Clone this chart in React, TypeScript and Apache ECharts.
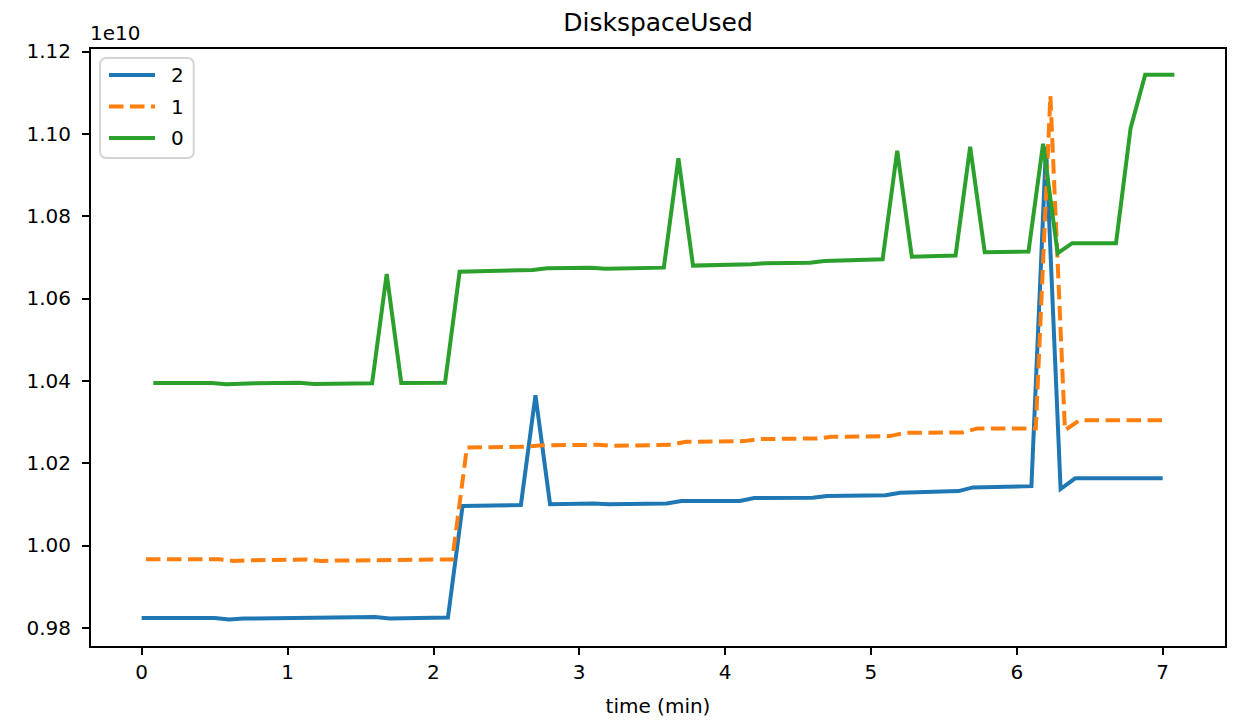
import React, { useEffect, useRef } from 'react';
import * as echarts from 'echarts';

// Values in units of 1e10 bytes; time in minutes (vertices)
const s2Time = [0, 0.5, 0.6, 0.7, 1.6, 1.7, 2.1, 2.2, 2.6, 2.7, 2.8, 3.1, 3.2, 3.6, 3.7, 4.1, 4.2, 4.6, 4.7, 5.1, 5.2, 5.6, 5.7, 6.1, 6.2, 6.3, 6.4, 7.0];
const s2Value = [0.98238, 0.98238, 0.98199, 0.98224, 0.98263, 0.98224, 0.98248, 1.0096, 1.0098, 1.0365, 1.0100, 1.0102, 1.0100, 1.0102, 1.0108, 1.0108, 1.0115, 1.0116, 1.0120, 1.0122, 1.0128, 1.0132, 1.0141, 1.0144, 1.0968, 1.0137, 1.0163, 1.0163];

const s1Time = [0.03, 0.53, 0.63, 0.73, 1.13, 1.23, 1.33, 2.13, 2.23, 2.63, 2.73, 3.13, 3.23, 3.63, 3.73, 4.13, 4.23, 4.63, 4.73, 5.13, 5.23, 5.63, 5.73, 6.13, 6.23, 6.33, 6.43, 7.03];
const s1Value = [0.99665, 0.99665, 0.99624, 0.9964, 0.9966, 0.99624, 0.99632, 0.9966, 1.02381, 1.02396, 1.0243, 1.02445, 1.0242, 1.02445, 1.02517, 1.02534, 1.02583, 1.026, 1.02639, 1.02656, 1.02736, 1.02746, 1.02843, 1.02843, 1.1092, 1.028, 1.0304, 1.0304];

const s0Time = [0.08, 0.48, 0.58, 0.78, 1.08, 1.18, 1.58, 1.68, 1.78, 2.08, 2.18, 2.68, 2.78, 3.08, 3.18, 3.58, 3.68, 3.78, 4.18, 4.28, 4.58, 4.68, 5.08, 5.18, 5.28, 5.58, 5.68, 5.78, 6.08, 6.18, 6.28, 6.38, 6.68, 6.78, 6.88, 7.08];
const s0Value = [1.03945, 1.03945, 1.03913, 1.03937, 1.03952, 1.0392, 1.03937, 1.06595, 1.03945, 1.03952, 1.06651, 1.06692, 1.06733, 1.06748, 1.06723, 1.06748, 1.09403, 1.06797, 1.06831, 1.06855, 1.06869, 1.06911, 1.06952, 1.09585, 1.07015, 1.0704, 1.09683, 1.07122, 1.07137, 1.09755, 1.07098, 1.07341, 1.07341, 1.10137, 1.11433, 1.11433];

const seriesNames = ['2', '1', '0'];
const seriesColors = ['#1f77b4', '#ff7f0e', '#2ca02c'];
const xTicks = [0, 1, 2, 3, 4, 5, 6, 7];
const yTicks = [0.98, 1.0, 1.02, 1.04, 1.06, 1.08, 1.1, 1.12];
const titleText = 'DiskspaceUsed';
const xAxisTitle = 'time (min)';
const offsetText = '1e10';

const FONT = "'DejaVu Sans', sans-serif";
const DASH = [14.5, 6.5];

function pairs(t: number[], v: number[]) {
  return t.map((x, i) => [x, v[i]]);
}

export default function App() {
  const ref = useRef<HTMLDivElement>(null);
  useEffect(() => {
    if (!ref.current) return;
    const chart = echarts.init(ref.current, null, { renderer: 'svg' });
    const datas = [pairs(s2Time, s2Value), pairs(s1Time, s1Value), pairs(s0Time, s0Value)];
    chart.setOption({
      animation: false,
      backgroundColor: '#ffffff',
      textStyle: { fontFamily: FONT },
      grid: {
        left: 90,
        right: 17,
        top: 48,
        bottom: 78,
        show: true,
        borderColor: '#000',
        borderWidth: 2,
        containLabel: false,
      },
      graphic: [
        {
          type: 'text',
          x: 658,
          y: 22.5,
          style: {
            text: titleText,
            fontSize: 25,
            fontFamily: FONT,
            fill: '#000',
            align: 'center',
            verticalAlign: 'middle',
          },
        },
        {
          type: 'text',
          x: 90,
          y: 32.5,
          style: {
            text: offsetText,
            fontSize: 20,
            fontFamily: FONT,
            fill: '#000',
            align: 'left',
            verticalAlign: 'middle',
          },
        },
        {
          type: 'text',
          x: 658,
          y: 706,
          style: {
            text: xAxisTitle,
            fontSize: 20,
            fontFamily: FONT,
            fill: '#000',
            align: 'center',
            verticalAlign: 'middle',
          },
        },
      ],
      legend: {
        data: seriesNames.map((name, i) => ({
          name,
          itemStyle: { opacity: 0, borderWidth: 0 },
          lineStyle: { color: seriesColors[i], width: 4, type: i === 1 ? DASH : 'solid', cap: 'butt' },
        })),
        orient: 'vertical',
        left: 100,
        top: 58,
        itemWidth: 46,
        itemHeight: 20,
        itemGap: 11.5,
        padding: [7, 10, 10, 7],
        borderColor: '#d4d4d4',
        borderWidth: 2,
        borderRadius: 6,
        backgroundColor: 'rgba(255,255,255,0.8)',
        itemStyle: { opacity: 0, borderWidth: 0 },
        lineStyle: { width: 4 },
        textStyle: {
          fontSize: 20,
          fontFamily: FONT,
          color: '#000',
          padding: [0, 0, 0, 11],
        },
      },
      xAxis: {
        type: 'value',
        min: -0.354,
        max: 7.434,
        splitLine: { show: false },
        axisLine: { show: true, onZero: false, lineStyle: { color: '#000', width: 2 } },
        axisTick: {
          show: true,
          length: 8,
          customValues: xTicks,
          lineStyle: { color: '#000', width: 2 },
        },
        axisLabel: {
          customValues: xTicks,
          fontSize: 20,
          fontFamily: FONT,
          color: '#000',
          margin: 15,
        },
      },
      yAxis: {
        type: 'value',
        min: 0.97533,
        max: 1.12083,
        splitLine: { show: false },
        axisLine: { show: true, onZero: false, lineStyle: { color: '#000', width: 2 } },
        axisTick: {
          show: true,
          length: 8,
          customValues: yTicks,
          lineStyle: { color: '#000', width: 2 },
        },
        axisLabel: {
          customValues: yTicks,
          fontSize: 20,
          fontFamily: FONT,
          color: '#000',
          margin: 19,
          formatter: (v: number) => v.toFixed(2),
        },
      },
      series: seriesNames.map((name, i) => ({
        name,
        type: 'line',
        data: datas[i],
        symbol: 'none',
        showSymbol: false,
        z: 2 + i,
        color: seriesColors[i],
        lineStyle: {
          color: seriesColors[i],
          width: 4,
          type: i === 1 ? DASH : 'solid',
          cap: 'butt',
          join: 'miter',
        },
      })),
    });
    return () => chart.dispose();
  }, []);
  return (
    <div
      ref={ref}
      style={{ position: 'fixed', left: 0, top: 0, width: 1243, height: 725, background: '#fff' }}
    />
  );
}
